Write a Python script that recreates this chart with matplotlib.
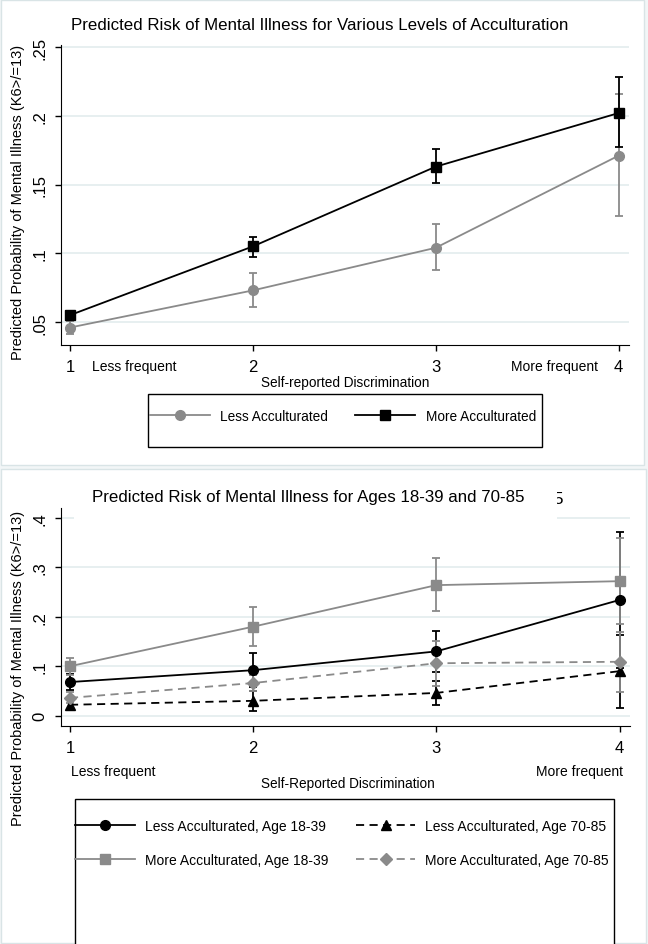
import matplotlib
matplotlib.use('Agg')
import matplotlib.pyplot as plt
from matplotlib.patches import Rectangle
import numpy as np

plt.rcParams['font.family'] = ['Liberation Sans', 'DejaVu Sans']

# data - top panel
levels = [1, 2, 3, 4]
less_acc = [0.046, 0.073, 0.104, 0.171]
less_acc_lo = [0.041, 0.061, 0.088, 0.127]
less_acc_hi = [0.051, 0.086, 0.121, 0.216]
more_acc = [0.055, 0.105, 0.163, 0.202]
more_acc_lo = [0.052, 0.097, 0.151, 0.177]
more_acc_hi = [0.058, 0.112, 0.176, 0.228]
top_yticks = [0.05, 0.10, 0.15, 0.20, 0.25]
top_yticklabels = ['.05', '.1', '.15', '.2', '.25']

# data - bottom panel
la_young = [0.068, 0.092, 0.130, 0.234]
la_young_lo = [0.052, 0.057, 0.088, 0.096]
la_young_hi = [0.084, 0.127, 0.172, 0.372]
ma_young = [0.100, 0.180, 0.264, 0.272]
ma_young_lo = [0.083, 0.140, 0.211, 0.185]
ma_young_hi = [0.117, 0.220, 0.318, 0.359]
la_old = [0.022, 0.030, 0.046, 0.090]
la_old_lo = [0.012, 0.010, 0.022, 0.016]
la_old_hi = [0.032, 0.050, 0.070, 0.164]
ma_old = [0.036, 0.066, 0.106, 0.109]
ma_old_lo = [0.025, 0.050, 0.060, 0.048]
ma_old_hi = [0.047, 0.082, 0.152, 0.170]
bot_yticks = [0, 0.1, 0.2, 0.3, 0.4]
bot_yticklabels = ['0', '.1', '.2', '.3', '.4']

W, H = 648, 945
GRAY = '#8a8a8a'
GRID = '#e3eced'
DASH = (0, (4.5, 3))
ylab = 'Predicted Probability of Mental Illness (K6>/=13)'


def fx(x):
    return x / W


def fy(y):
    return 1 - y / H


def err(v, lo, hi):
    v = np.array(v)
    return [v - np.array(lo), np.array(hi) - v]


def style_axes(ax, yticks, yticklabels):
    ax.spines['top'].set_visible(False)
    ax.spines['right'].set_visible(False)
    ax.set_xticks(levels)
    ax.set_xticklabels([str(l) for l in levels], fontsize=12)
    ax.set_yticks(yticks)
    ax.set_yticklabels(yticklabels, fontsize=12, rotation=90, va='center')
    ax.tick_params(length=4, width=1, pad=6)
    ax.grid(axis='y', color=GRID, linewidth=1.2)
    ax.set_axisbelow(True)


eb = dict(markersize=7, lw=1.3, capsize=3, elinewidth=1.3, capthick=1.3)

fig = plt.figure(figsize=(W / 100, H / 100), dpi=100, facecolor='#f2f6f7')

# panel backgrounds
fig.patches.append(Rectangle((fx(1), fy(466)), fx(643), 465 / H, transform=fig.transFigure,
                             facecolor='white', edgecolor='#d9e4e6', lw=1, zorder=-5))
fig.patches.append(Rectangle((fx(1), fy(944)), fx(645), 474 / H, transform=fig.transFigure,
                             facecolor='white', edgecolor='#d9e4e6', lw=1, zorder=-5))

# ---------------- top panel ----------------
ax1 = fig.add_axes([fx(61), fy(346), (629 - 61) / W, 300 / H])
l1 = ax1.errorbar(levels, less_acc, yerr=err(less_acc, less_acc_lo, less_acc_hi), color=GRAY,
                  marker='o', **eb)
l2 = ax1.errorbar(levels, more_acc, yerr=err(more_acc, more_acc_lo, more_acc_hi), color='black',
                  marker='s', **eb)
style_axes(ax1, top_yticks, top_yticklabels)
ax1.set_xlim(0.951, 4.057)
ax1.set_ylim(0.0333, 0.2515)

fig.text(fx(320), fy(25), 'Predicted Risk of Mental Illness for Various Levels of Acculturation',
         ha='center', va='center', fontsize=12.2)
fig.text(fx(18), fy(202), ylab, rotation=90, ha='center', va='center', fontsize=10.5)
fig.text(fx(92), fy(367), 'Less frequent', ha='left', va='center', fontsize=10)
fig.text(fx(598), fy(367), 'More frequent', ha='right', va='center', fontsize=10)
fig.text(fx(345), fy(383), 'Self-reported Discrimination', ha='center', va='center', fontsize=9.8)

fig.patches.append(Rectangle((fx(148), fy(448)), (542 - 148) / W, 53 / H, transform=fig.transFigure,
                             facecolor='white', edgecolor='black', lw=1))
fig.legend([l1[0], l2[0]], ['Less Acculturated', 'More Acculturated'], loc='center',
           bbox_to_anchor=(fx(343), fy(417)), bbox_transform=fig.transFigure, ncol=2,
           frameon=False, fontsize=9.8, handlelength=4.4, handletextpad=0.75, columnspacing=2.0)

# ---------------- bottom panel ----------------
ax2 = fig.add_axes([fx(61), fy(726.7), (630 - 61) / W, 217.7 / H])
b1 = ax2.errorbar(levels, la_young, yerr=err(la_young, la_young_lo, la_young_hi), color='black',
                  marker='o', **eb)
b2 = ax2.errorbar(levels, ma_young, yerr=err(ma_young, ma_young_lo, ma_young_hi), color=GRAY,
                  marker='s', **eb)
b3 = ax2.errorbar(levels, la_old, yerr=err(la_old, la_old_lo, la_old_hi), color='black',
                  marker='^', ls=DASH, **eb)
b4 = ax2.errorbar(levels, ma_old, yerr=err(ma_old, ma_old_lo, ma_old_hi), color=GRAY,
                  marker='D', ls=DASH, **dict(eb, markersize=6.5))
style_axes(ax2, bot_yticks, bot_yticklabels)
ax2.set_xlim(0.951, 4.057)
ax2.set_ylim(-0.0203, 0.420)

# stray glyph and white title box covering the top grid line
fig.text(fx(553), fy(499), '5', ha='left', va='center', fontsize=12.2, zorder=4)
fig.patches.append(Rectangle((fx(74), fy(523)), (557 - 74) / W, 45 / H, transform=fig.transFigure,
                             facecolor='white', edgecolor='none', zorder=5))
fig.text(fx(308), fy(498), 'Predicted Risk of Mental Illness for Ages 18-39 and 70-85',
         ha='center', va='center', fontsize=12.2, zorder=6)
fig.text(fx(18), fy(668), ylab, rotation=90, ha='center', va='center', fontsize=10.5)
fig.text(fx(71), fy(772), 'Less frequent', ha='left', va='center', fontsize=10)
fig.text(fx(623), fy(772), 'More frequent', ha='right', va='center', fontsize=10)
fig.text(fx(348), fy(784), 'Self-Reported Discrimination', ha='center', va='center', fontsize=9.8)

fig.patches.append(Rectangle((fx(75), fy(960)), (614 - 75) / W, 160 / H, transform=fig.transFigure,
                             facecolor='white', edgecolor='black', lw=1))
fig.legend([b1[0], b2[0], b3[0], b4[0]],
           ['Less Acculturated, Age 18-39', 'More Acculturated, Age 18-39',
            'Less Acculturated, Age 70-85', 'More Acculturated, Age 70-85'],
           loc='center', bbox_to_anchor=(fx(342), fy(844)), bbox_transform=fig.transFigure,
           ncol=2, frameon=False, fontsize=10, handlelength=4.3, handletextpad=0.7,
           columnspacing=2.0, labelspacing=1.4)

fig.savefig('out.png', dpi=100, facecolor=fig.get_facecolor())
